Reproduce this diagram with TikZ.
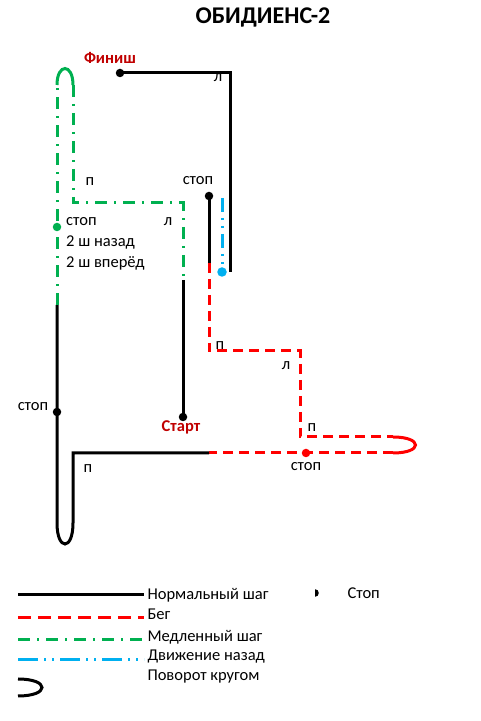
\documentclass[tikz,border=0pt]{standalone}
\usepackage{fontspec}
\setmainfont{Carlito}
\usetikzlibrary{positioning}
\definecolor{runred}{RGB}{255,0,0}
\definecolor{slowgreen}{RGB}{0,176,80}
\definecolor{backblue}{RGB}{0,176,240}
\definecolor{flagred}{RGB}{192,0,0}

\begin{document}
\begin{tikzpicture}[x=1pt,y=1pt,
    norm/.style={black,line width=3pt},
    run/.style={runred,line width=3pt,dash pattern=on 10pt off 6pt},
    slow/.style={slowgreen,line width=3pt,dash pattern=on 12pt off 7pt on 2pt off 7pt},
    backw/.style={backblue,line width=3pt,dash pattern=on 14pt off 6pt on 2pt off 6pt on 2pt off 6pt},
    dot/.style={circle,fill=#1,inner sep=0pt,minimum size=8.5pt},
    dot/.default=black,
    lbl/.style={font=\fontsize{16.5}{19}\selectfont,inner sep=1pt},
    flag/.style={font=\fontsize{16.5}{19}\selectfont\bfseries,text=flagred,inner sep=1pt},
    legtext/.style={font=\fontsize{16.5}{19}\selectfont,anchor=west}]
    \useasboundingbox (0,0) rectangle (480,721);
    \node[font=\fontsize{24}{28}\selectfont\bfseries] (title) at (263,704) {ОБИДИЕНС-2};

    % точки трассы
    \coordinate (finish) at (120,648);
    \coordinate (fc) at (230,648);
    \coordinate (fe) at (230,449);
    \coordinate (stopA) at (209,525);
    \coordinate (r0) at (209,458);
    \coordinate (r1) at (209,370);
    \coordinate (r2) at (300,370);
    \coordinate (r3) at (300,284);
    \coordinate (r4) at (393,284);
    \coordinate (r5) at (393,268);
    \coordinate (stopB) at (306,268);
    \coordinate (b0) at (209,268);
    \coordinate (b1) at (73,268);
    \coordinate (b2) at (73,198);
    \coordinate (b3) at (57,198);
    \coordinate (stopC) at (57,309);
    \coordinate (g0) at (57,416);
    \coordinate (stopD) at (57,494);
    \coordinate (g1) at (57,636);
    \coordinate (g2) at (73,636);
    \coordinate (g3) at (73,518);
    \coordinate (g4) at (183,518);
    \coordinate (g5) at (183,441);
    \coordinate (start) at (183,304);
    \coordinate (v0) at (222,523);
    \coordinate (stopE) at (222,449);

    % линии
    \draw[norm] (finish) -- (fc) -- (fe);
    \draw[norm] (stopA) -- (r0);
    \draw[run] (r0) -- (r1) -- (r2) -- (r3) -- (r4);
    \draw[run,solid] (r4) .. controls +(30,0) and +(30,0) .. (r5); % поворот
    \draw[run] (r5) -- (stopB) -- (b0);
    \draw[norm] (b0) -- (b1) -- (b2) .. controls +(0,-28) and +(0,-28) .. (b3) -- (stopC) -- (g0);
    \draw[slow] (g0) -- (stopD) -- (g1);
    \draw[slow,solid] (g1) .. controls +(0,22) and +(0,22) .. (g2); % поворот
    \draw[slow] (g2) -- (g3) -- (g4) -- (g5);
    \draw[norm] (g5) -- (start);
    \draw[backw] (v0) -- (stopE);

    \foreach \p in {finish,stopA,stopC,start}
        \node[dot] at (\p) {};
    \node[dot=runred] at (stopB) {};
    \node[dot=slowgreen] at (stopD) {};
    \node[dot=backblue,minimum size=9.5pt] at (stopE) {};

    % подписи
    \node[flag] (finlbl) at (110,663) {Финиш};
    \node[flag] (startlbl) at (181,294) {Старт};
    \node[lbl] (l1) at (218,643) {л};
    \node[lbl] (p1) at (90,539) {п};
    \node[lbl] (l2) at (168,499) {л};
    \node[lbl] (sA) at (198,540) {стоп};
    \node[lbl,anchor=west] (sD) at (65,499) {стоп};
    \node[lbl,anchor=west] (sD2) at (65,478) {2 ш назад};
    \node[lbl,anchor=west] (sD3) at (65,458) {2 ш вперёд};
    \node[lbl] (p2) at (220,375) {п};
    \node[lbl] (l3) at (286,355) {л};
    \node[lbl] (p3) at (312,293) {п};
    \node[lbl] (sB) at (306,254) {стоп};
    \node[lbl] (sC) at (33,314) {стоп};
    \node[lbl] (p4) at (88,252) {п};

    % легенда
    \coordinate (lg1) at (18,126);
    \coordinate (lg2) at (18,103);
    \coordinate (lg3) at (18,81);
    \coordinate (lg4) at (18,61);
    \node[legtext] (t1) at (144,126) {Нормальный шаг};
    \node[legtext] (t2) at (144,107) {Бег};
    \node[legtext] (t3) at (144,84) {Медленный шаг};
    \node[legtext] (t4) at (144,64) {Движение назад};
    \node[legtext] (t5) at (144,44) {Поворот кругом};
    \draw[norm] (lg1) -- (lg1 -| t1.west);
    \draw[run,dash pattern=on 13pt off 7pt] (lg2) -- (lg2 -| t2.west);
    \draw[slow] (lg3) -- (lg3 -| t3.west);
    \draw[backw,dash pattern=on 20pt off 6pt on 2pt off 6pt on 2pt off 6pt] (lg4) -- (lg4 -| t4.west);
    \coordinate (u0) at (18,42);
    \coordinate (u1) at (18,25);
    \draw[norm] (u0) .. controls +(32,0) and +(32,0) .. (u1);
    \coordinate (sdot) at (315,128);
    \fill (sdot) ++(0,3.8) arc[start angle=90,end angle=-90,radius=3.8] -- cycle;
    \node[legtext] (t6) at (344,128) {Стоп};
\end{tikzpicture}
\end{document}
